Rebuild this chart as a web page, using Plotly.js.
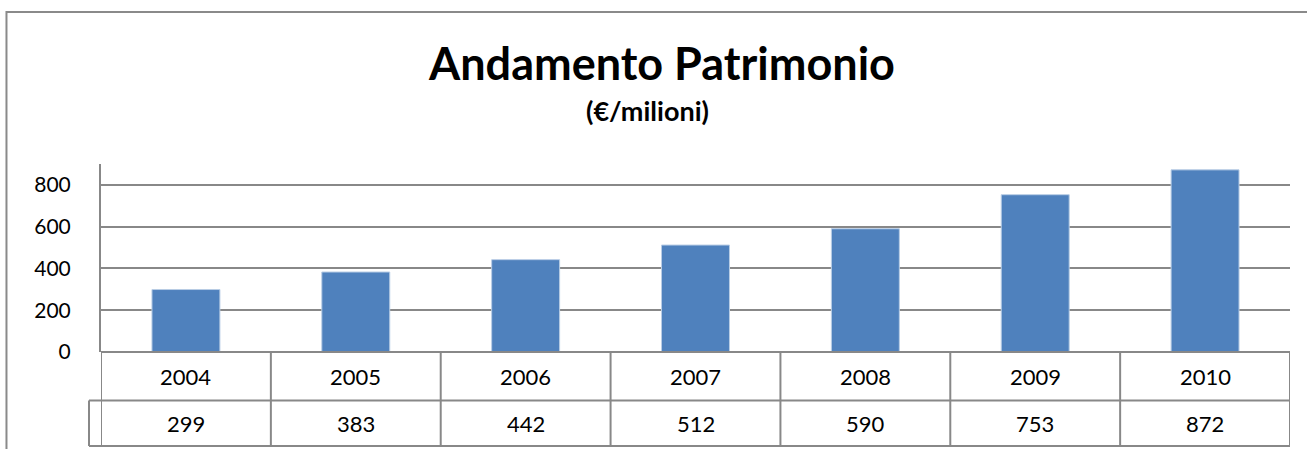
<!DOCTYPE html>
<html>
<head>
<meta charset="utf-8">
<script src="https://cdn.plot.ly/plotly-3.0.1.min.js"></script>
<style>html,body{margin:0;padding:0;background:#fff;}#chart{width:1307px;height:449px;}</style>
</head>
<body>
<div id="chart"></div>
<script>
const years = ["2004", "2005", "2006", "2007", "2008", "2009", "2010"];
const values = [299, 383, 442, 512, 590, 753, 872];
const titleText = "Andamento Patrimonio";
const subtitleText = "(€/milioni)";

const FONT = "Lato, 'Open Sans', sans-serif";
const GRID = "#888888";
const idx = years.map((_, i) => i);

const shapes = [];
const annotations = [];
const row1Bottom = -0.258;
const row2Bottom = -0.5;
const boxLeft = -0.0101;
// horizontal table lines
shapes.push({type: "line", xref: "x", yref: "paper", x0: -0.5, x1: years.length - 0.5, y0: 0, y1: 0, line: {color: GRID, width: 2}});
shapes.push({type: "line", xref: "paper", yref: "paper", x0: boxLeft, x1: 1, y0: row1Bottom, y1: row1Bottom, line: {color: GRID, width: 2}});
shapes.push({type: "line", xref: "paper", yref: "paper", x0: boxLeft, x1: 1, y0: row2Bottom, y1: row2Bottom, line: {color: GRID, width: 2}});
shapes.push({type: "line", xref: "paper", yref: "paper", x0: boxLeft, x1: boxLeft, y0: row1Bottom, y1: row2Bottom, line: {color: GRID, width: 2}});
// vertical separators
for (let i = 0; i <= years.length; i++) {
  shapes.push({type: "line", xref: "x", yref: "paper", x0: i - 0.5, x1: i - 0.5, y0: 0, y1: row2Bottom, line: {color: GRID, width: 2}});
}
// outer chart border
shapes.push({type: "rect", xref: "paper", yref: "paper", x0: -0.0795, x1: 1.2, y0: -2, y1: 1.8085, line: {color: "#8a8a8a", width: 2}, fillcolor: "rgba(0,0,0,0)"});

years.forEach((y, i) => {
  annotations.push({xref: "x", yref: "paper", x: i, y: row1Bottom / 2, text: y, showarrow: false, xanchor: "center", yanchor: "middle", font: {family: FONT, size: 22, color: "#000"}});
  annotations.push({xref: "x", yref: "paper", x: i, y: (row1Bottom + row2Bottom) / 2, text: String(values[i]), showarrow: false, xanchor: "center", yanchor: "middle", font: {family: FONT, size: 22, color: "#000"}});
});
annotations.push({xref: "paper", yref: "paper", x: (647 - 101) / 1189, y: (352 - 110) / 188, text: "<b>" + subtitleText + "</b>", showarrow: false, xanchor: "center", yanchor: "middle", font: {family: FONT, size: 27, color: "#000"}});

const trace = {
  type: "bar",
  x: idx,
  y: values,
  width: 0.4,
  marker: {color: "#4F81BD", line: {color: "#B9CDE5", width: 1}},
  hoverinfo: "skip"
};

const layout = {
  width: 1307,
  height: 449,
  margin: {l: 101, r: 17, t: 164, b: 97},
  paper_bgcolor: "#fff",
  plot_bgcolor: "#fff",
  showlegend: false,
  title: {text: "<b>" + titleText + "</b>", x: 662 / 1307, xanchor: "center", xref: "container", y: 1 - 64 / 449, yanchor: "middle", yref: "container", font: {family: FONT, size: 45, color: "#000"}},
  xaxis: {range: [-0.5, years.length - 0.5], showticklabels: false, showgrid: false, zeroline: false, showline: false, ticks: "", fixedrange: true},
  yaxis: {range: [0, 900], dtick: 200, tick0: 0, showgrid: true, gridcolor: GRID, gridwidth: 2, zeroline: false, showline: true, linecolor: GRID, linewidth: 2, ticks: "", ticklabelstandoff: 24, tickfont: {family: FONT, size: 21, color: "#000"}, fixedrange: true},
  shapes: shapes,
  annotations: annotations
};

Plotly.newPlot("chart", [trace], layout, {displayModeBar: false, staticPlot: true});
</script>
</body>
</html>
